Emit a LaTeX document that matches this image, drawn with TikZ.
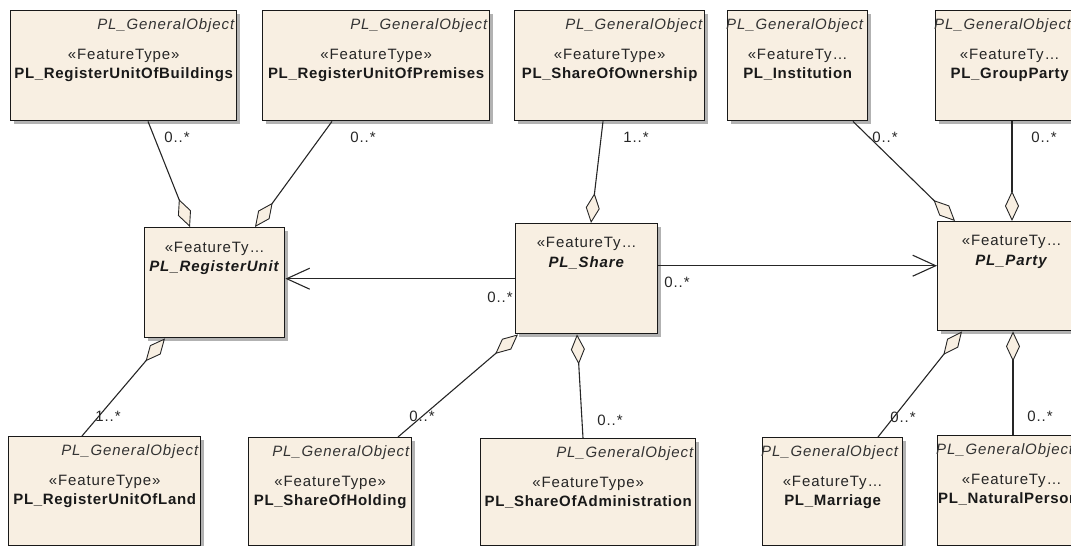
\documentclass[tikz,border=0pt]{standalone}
\usepackage{fontspec}
\setmainfont{Liberation Sans}[LetterSpace=6, BoldFeatures={LetterSpace=4.5}]
\usepackage{tikz}
\usetikzlibrary{arrows.meta,shadows}
\definecolor{cream}{RGB}{248,239,226}

\begin{document}
\begin{tikzpicture}[x=1pt, y=-1pt, font=\fontsize{15}{18}\selectfont,
    cls/.style 2 args={draw=black!90, line width=1.4pt, fill=cream, inner sep=0pt,
      anchor=north west, minimum width=#1pt, minimum height=#2pt,
      drop shadow={shadow xshift=3pt, shadow yshift=-3pt, fill=black!30, opacity=1}},
    gobj/.style={inner sep=0pt, text=black!80, font=\fontsize{15}{18}\selectfont\itshape},
    stereo/.style={inner sep=0pt, anchor=base, text=black!85},
    cname/.style={inner sep=0pt, anchor=base, text=black!90, font=\fontsize{15}{18}\selectfont\bfseries},
    mult/.style={inner sep=0pt, text=black!85},
    agg/.style={draw=black!85, line width=1.1pt,
      -{Diamond[length=30pt, width=14pt, fill=cream, line width=0.9pt]}},
    nav/.style={draw=black!85, line width=1.1pt,
      -{Straight Barb[length=23pt, width=21pt, line width=1.1pt]}}]
  \useasboundingbox (0,0) rectangle (1071,546);
  \clip (0,0) rectangle (1071,546);

  % top row
  \node[cls={226}{110}] (b1) at (10,10) {};
  \node[gobj, anchor=base east] (b1g) at ([shift={(-3,19)}]b1.north east) {PL\_GeneralObject};
  \node[stereo] (b1s) at ([shift={(0,49)}]b1.north) {«FeatureType»};
  \node[cname] (b1n) at ([shift={(0,68)}]b1.north) {PL\_RegisterUnitOfBuildings};

  \node[cls={227}{110}] (b2) at (262,10) {};
  \node[gobj, anchor=base east] (b2g) at ([shift={(-3,19)}]b2.north east) {PL\_GeneralObject};
  \node[stereo] (b2s) at ([shift={(0,49)}]b2.north) {«FeatureType»};
  \node[cname] (b2n) at ([shift={(0,68)}]b2.north) {PL\_RegisterUnitOfPremises};

  \node[cls={190}{110}] (b3) at (514,10) {};
  \node[gobj, anchor=base east] (b3g) at ([shift={(-3,19)}]b3.north east) {PL\_GeneralObject};
  \node[stereo] (b3s) at ([shift={(0,49)}]b3.north) {«FeatureType»};
  \node[cname] (b3n) at ([shift={(0,68)}]b3.north) {PL\_ShareOfOwnership};

  \node[cls={140}{110}] (b4) at (727,10) {};
  \node[gobj, anchor=base west] (b4g) at ([shift={(-1,19)}]b4.north west) {PL\_GeneralObject};
  \node[stereo] (b4s) at ([shift={(0,49)}]b4.north) {«FeatureTy…};
  \node[cname] (b4n) at ([shift={(0,68)}]b4.north) {PL\_Institution};

  \node[cls={148}{110}] (b5) at (935,10) {};
  \node[gobj, anchor=base west] (b5g) at ([shift={(-1,19)}]b5.north west) {PL\_GeneralObject};
  \node[stereo] (b5s) at ([shift={(0,49)}]b5.north) {«FeatureTy…};
  \node[cname] (b5n) at ([shift={(0,68)}]b5.north) {PL\_GroupParty};

  % middle row
  \node[cls={140}{110}] (runit) at (144,227) {};
  \node[stereo] (runits) at ([shift={(0,25)}]runit.north) {«FeatureTy…};
  \node[cname] (runitn) at ([shift={(0,44)}]runit.north) {\textit{PL\_RegisterUnit}};

  \node[cls={142}{110}] (share) at (515,223) {};
  \node[stereo] (shares) at ([shift={(0,24)}]share.north) {«FeatureTy…};
  \node[cname] (sharen) at ([shift={(0,44)}]share.north) {\textit{PL\_Share}};

  \node[cls={148}{109}] (party) at (937,221) {};
  \node[stereo] (partys) at ([shift={(0,24)}]party.north) {«FeatureTy…};
  \node[cname] (partyn) at ([shift={(0,44)}]party.north) {\textit{PL\_Party}};

  % bottom row
  \node[cls={192}{109}] (land) at (8,436) {};
  \node[gobj, anchor=base east] (landg) at ([shift={(-3,19)}]land.north east) {PL\_GeneralObject};
  \node[stereo] (lands) at ([shift={(0,49)}]land.north) {«FeatureType»};
  \node[cname] (landn) at ([shift={(0,68)}]land.north) {PL\_RegisterUnitOfLand};

  \node[cls={163}{108}] (holding) at (248,437) {};
  \node[gobj, anchor=base east] (holdingg) at ([shift={(-3,19)}]holding.north east) {PL\_GeneralObject};
  \node[stereo] (holdings) at ([shift={(0,49)}]holding.north) {«FeatureType»};
  \node[cname] (holdingn) at ([shift={(0,68)}]holding.north) {PL\_ShareOfHolding};

  \node[cls={215}{107}] (admin) at (480,438) {};
  \node[gobj, anchor=base east] (adming) at ([shift={(-3,19)}]admin.north east) {PL\_GeneralObject};
  \node[stereo] (admins) at ([shift={(0,49)}]admin.north) {«FeatureType»};
  \node[cname] (adminn) at ([shift={(0,68)}]admin.north) {PL\_ShareOfAdministration};

  \node[cls={140}{108}] (marriage) at (762,437) {};
  \node[gobj, anchor=base west] (marriageg) at ([shift={(-1,19)}]marriage.north west) {PL\_GeneralObject};
  \node[stereo] (marriages) at ([shift={(0,49)}]marriage.north) {«FeatureTy…};
  \node[cname] (marriagen) at ([shift={(0,68)}]marriage.north) {PL\_Marriage};

  \node[cls={148}{110}] (natural) at (937,435) {};
  \node[gobj, anchor=base west] (naturalg) at ([shift={(-1,19)}]natural.north west) {PL\_GeneralObject};
  \node[stereo] (naturals) at ([shift={(0,49)}]natural.north) {«FeatureTy…};
  \node[cname, anchor=base west] (naturaln) at ([shift={(1,68)}]natural.north west) {PL\_NaturalPerson};

  % aggregations
  \draw[agg] ([xshift=138pt]b1.south west) -- ([xshift=46pt]runit.north west);
  \draw[agg] ([xshift=70pt]b2.south west) -- ([xshift=111pt]runit.north west);
  \draw[agg] ([xshift=89pt]b3.south west) -- ([xshift=76pt]share.north west);
  \draw[agg] ([xshift=126pt]b4.south west) -- ([xshift=18pt]party.north west);
  \draw[agg] ([xshift=77pt]b5.south west) -- ([xshift=75pt]party.north west);
  \draw[agg] ([xshift=74pt]land.north west) -- ([xshift=21pt]runit.south west);
  \draw[agg] ([xshift=150pt]holding.north west) -- ([xshift=3pt]share.south west);
  \draw[agg] ([xshift=103pt]admin.north west) -- ([xshift=62pt]share.south west);
  \draw[agg] ([xshift=116pt]marriage.north west) -- ([xshift=25pt]party.south west);
  \draw[agg] ([xshift=76pt]natural.north west) -- ([xshift=76pt]party.south west);

  % navigable associations
  \draw[nav] (share.west) -- (share.west -| runit.east);
  \coordinate (sp) at ([yshift=13pt]share.east);
  \draw[nav] (sp) -- (sp -| party.west);

  % multiplicities
  \node[mult] (m1) at (177,137) {0..*};
  \node[mult] (m2) at (363,137) {0..*};
  \node[mult] (m3) at (636,137) {1..*};
  \node[mult] (m4) at (885,137) {0..*};
  \node[mult] (m5) at (1044,137) {0..*};
  \node[mult] (m6) at (500,297) {0..*};
  \node[mult] (m7) at (677,282) {0..*};
  \node[mult] (m8) at (108,416) {1..*};
  \node[mult] (m9) at (422,416) {0..*};
  \node[mult] (m10) at (610,420) {0..*};
  \node[mult] (m11) at (903,417) {0..*};
  \node[mult] (m12) at (1040,416) {0..*};
\end{tikzpicture}
\end{document}
